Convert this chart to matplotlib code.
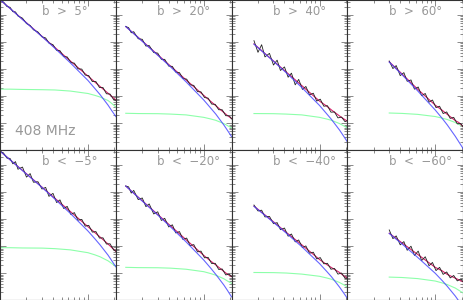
import numpy as np
import matplotlib
matplotlib.use("Agg")
import matplotlib.pyplot as plt
from matplotlib.ticker import LogLocator, NullFormatter

# multipoles of the measured spectra and of the fitted curves
ell_obs = [10, 11, 12, 13, 14, 15, 16, 18, 20, 22, 24, 27, 30, 33, 36, 40, 44, 48,
           53, 58, 64, 70, 77, 85, 93, 102, 112, 123, 135, 148, 162, 178, 195, 207]
ell_fit = [10, 13, 18, 30, 42, 63, 100, 120, 137, 169, 185, 207]

# log10 C_l (each list ends at l = 207)
n5_obs = [4.56, 4.47, 4.31, 4.28, 4.12, 4.11, 3.96, 3.88, 3.68, 3.61, 3.45, 3.37, 3.19, 3.15,
          2.96, 2.90, 2.69, 2.68, 2.46, 2.45, 2.24, 2.22, 2.01, 2.00, 1.78, 1.76, 1.54, 1.54,
          1.32, 1.32, 1.09, 1.08, 0.88, 0.85]
n5_fit = [4.56, 4.24, 3.84, 3.21, 2.80, 2.30, 1.74, 1.52, 1.36, 1.11, 1.00, 0.86]
n5_sig = [4.56, 4.24, 3.83, 3.20, 2.77, 2.23, 1.58, 1.28, 1.06, 0.67, 0.48, 0.25]
n5_noise = [1.26, 1.26, 1.25, 1.24, 1.23, 1.19, 1.10, 1.03, 0.97, 0.84, 0.74, 0.60]

n20_obs = [3.57, 3.53, 3.34, 3.38, 3.12, 3.10, 2.85, 2.87, 2.61, 2.59, 2.36, 2.36, 2.11, 2.10,
           1.89, 1.87, 1.65, 1.63, 1.42, 1.40, 1.17, 1.16, 0.95, 0.93, 0.71, 0.70, 0.50, 0.50,
           0.28, 0.28, 0.16]
n20_fit = [3.57, 3.17, 2.53, 2.11, 1.60, 1.03, 0.81, 0.65, 0.40, 0.29, 0.18]
n20_sig = [3.57, 3.16, 2.51, 2.08, 1.53, 0.86, 0.56, 0.34, -0.06, -0.25, -0.49]
n20_noise = [0.37, 0.36, 0.355, 0.34, 0.31, 0.22, 0.16, 0.11, -0.01, -0.08, -0.17]

n40_obs = [3.05, 2.62, 2.90, 2.45, 2.58, 2.15, 2.33, 1.95, 2.08, 1.70, 1.85, 1.42, 1.62, 1.25,
           1.36, 1.05, 1.11, 0.82, 0.89, 0.63, 0.65, 0.41, 0.42, 0.20, 0.23, 0.06, 0.10]
n40_fit = [2.93, 2.30, 1.89, 1.39, 0.82, 0.64, 0.49, 0.27, 0.18, 0.08]
n40_sig = [2.92, 2.29, 1.86, 1.32, 0.66, 0.36, 0.14, -0.25, -0.44, -0.68]
n40_noise = [0.36, 0.355, 0.34, 0.31, 0.22, 0.16, 0.11, -0.01, -0.08, -0.17]

n60_obs = [2.30, 2.02, 2.13, 1.76, 1.87, 1.55, 1.60, 1.26, 1.34, 1.02, 1.10, 0.78, 0.86, 0.58,
           0.63, 0.36, 0.42, 0.18, 0.22, -0.02, -0.01, -0.13]
n60_fit = [2.27, 1.82, 1.26, 0.67, 0.48, 0.33, 0.10, 0.03, -0.12]
n60_sig = [2.26, 1.79, 1.20, 0.49, 0.18, -0.06, -0.48, -0.68, -0.93]
n60_noise = [0.38, 0.365, 0.33, 0.25, 0.19, 0.14, 0.03, -0.04, -0.12]

s5_obs = [4.51, 4.43, 4.25, 4.24, 4.04, 4.12, 3.84, 3.92, 3.55, 3.68, 3.36, 3.38, 3.11, 3.17,
          2.84, 2.95, 2.61, 2.71, 2.39, 2.47, 2.17, 2.24, 1.96, 1.99, 1.74, 1.77, 1.52, 1.54,
          1.30, 1.31, 1.08, 1.09, 0.87, 0.82]
s5_fit = [4.51, 4.19, 3.80, 3.18, 2.77, 2.28, 1.72, 1.50, 1.34, 1.08, 0.96, 0.81]
s5_sig = [4.51, 4.19, 3.79, 3.17, 2.74, 2.21, 1.56, 1.27, 1.05, 0.67, 0.48, 0.24]
s5_noise = [0.945, 0.945, 0.935, 0.93, 0.91, 0.865, 0.76, 0.68, 0.61, 0.46, 0.37, 0.25]

s20_obs = [3.22, 3.19, 2.96, 3.06, 2.72, 2.78, 2.46, 2.56, 2.19, 2.27, 1.95, 2.03, 1.71, 1.79,
           1.49, 1.54, 1.25, 1.30, 1.02, 1.06, 0.79, 0.82, 0.57, 0.59, 0.36, 0.37, 0.14, 0.16,
           -0.06, -0.03, -0.12]
s20_fit = [3.22, 2.81, 2.17, 1.75, 1.24, 0.66, 0.45, 0.31, 0.07, -0.03, -0.12]
s20_sig = [3.22, 2.80, 2.15, 1.71, 1.16, 0.49, 0.19, -0.04, -0.43, -0.62, -0.87]
s20_noise = [0.22, 0.21, 0.205, 0.19, 0.15, 0.06, -0.01, -0.07, -0.20, -0.28, -0.37]

s40_obs = [2.52, 2.30, 2.33, 2.08, 2.10, 1.83, 1.87, 1.61, 1.67, 1.37, 1.45, 1.16, 1.23, 0.95,
           1.01, 0.74, 0.78, 0.53, 0.58, 0.35, 0.37, 0.15, 0.18, -0.03, 0.01, -0.18, -0.18]
s40_fit = [2.48, 1.90, 1.51, 1.05, 0.51, 0.33, 0.21, 0.03, -0.07, -0.18]
s40_sig = [2.47, 1.88, 1.48, 0.98, 0.36, 0.08, -0.13, -0.51, -0.69, -0.92]
s40_noise = [0.03, 0.025, 0.01, -0.03, -0.11, -0.17, -0.22, -0.34, -0.41, -0.50]

s60_obs = [1.60, 1.28, 1.38, 1.05, 1.17, 0.85, 1.00, 0.66, 0.82, 0.47, 0.61, 0.28, 0.40, 0.10,
           0.22, -0.04, 0.05, -0.17, -0.08, -0.28, -0.21, -0.31]
s60_fit = [1.48, 1.12, 0.70, 0.22, 0.09, -0.04, -0.18, -0.24, -0.31]
s60_sig = [1.47, 1.08, 0.59, 0.0, -0.27, -0.48, -0.84, -1.02, -1.24]
s60_noise = [-0.14, -0.155, -0.195, -0.285, -0.355, -0.415, -0.545, -0.625, -0.725]

labels = ["b  >  5°", "b  >  20°", "b  >  40°", "b  >  60°",
          "b  <  \u22125°", "b  <  \u221220°", "b  <  \u221240°", "b  <  \u221260°"]

panels = [(n5_obs, n5_fit, n5_sig, n5_noise), (n20_obs, n20_fit, n20_sig, n20_noise),
          (n40_obs, n40_fit, n40_sig, n40_noise), (n60_obs, n60_fit, n60_sig, n60_noise),
          (s5_obs, s5_fit, s5_sig, s5_noise), (s20_obs, s20_fit, s20_sig, s20_noise),
          (s40_obs, s40_fit, s40_sig, s40_noise), (s60_obs, s60_fit, s60_sig, s60_noise)]

fig, axes = plt.subplots(2, 4, figsize=(4.63, 3.0), dpi=100, sharex=True, sharey=True)
fig.subplots_adjust(left=0, right=1, bottom=0, top=1, wspace=0, hspace=0)

for ax, (obs, fit, sig, noise), lab in zip(axes.flat, panels, labels):
    lo = ell_obs[-len(obs):]
    lf = ell_fit[-len(fit):]
    ax.plot(lf, 10 ** np.array(noise), color="#8dffaa", lw=0.8)
    ax.plot(lf, 10 ** np.array(fit), color="#d8206a", lw=0.8)
    ax.plot(lo, 10 ** np.array(obs), color="#202020", lw=0.6)
    ax.plot(lf, 10 ** np.array(sig), color="#4a4aff", lw=0.8, alpha=0.85)
    ax.set_xscale("log")
    ax.set_yscale("log")
    ax.text(0.36, 0.965, lab, transform=ax.transAxes, ha="left", va="top",
            fontsize=8.5, color="#999999")
    for sp in ax.spines.values():
        sp.set_color("#333333")
        sp.set_linewidth(0.8)

ax0 = axes[0, 0]
ax0.set_xlim(10, 206.7)
ax0.set_ylim(10 ** -0.985, 10 ** 4.55)
for ax in axes.flat:
    ax.xaxis.set_major_locator(LogLocator(base=10, numticks=10))
    ax.xaxis.set_minor_locator(LogLocator(base=10, subs=np.arange(2, 10), numticks=50))
    ax.yaxis.set_major_locator(LogLocator(base=10, numticks=10))
    ax.yaxis.set_minor_locator(LogLocator(base=10, subs=np.arange(2, 10), numticks=50))
    ax.xaxis.set_minor_formatter(NullFormatter())
    ax.yaxis.set_minor_formatter(NullFormatter())
    ax.tick_params(which="both", direction="in", top=True, right=True, color="#777777",
                   labelbottom=False, labelleft=False, width=0.6)
    ax.tick_params(which="major", length=4)
    ax.tick_params(which="minor", length=2)

axes[0, 0].text(0.13, 0.08, "408 MHz", transform=axes[0, 0].transAxes, ha="left",
                va="bottom", fontsize=10, color="#999999")

fig.savefig("out.png", dpi=100)
